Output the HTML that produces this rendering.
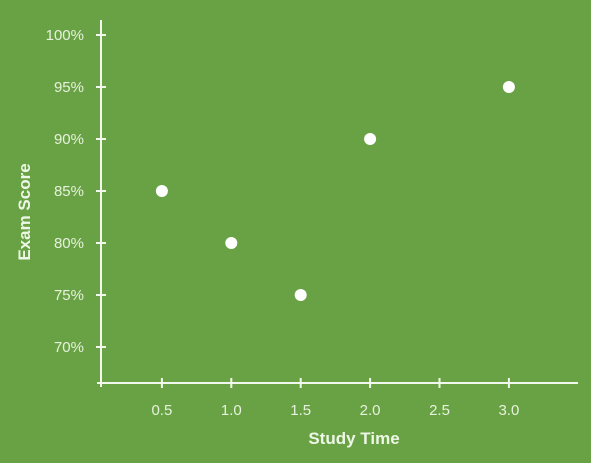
<!DOCTYPE html>
<html><head><meta charset="utf-8"><style>
html,body{margin:0;padding:0;background:#69a245;}
svg{display:block;font-family:"Liberation Sans",sans-serif;}
</style></head><body>
<svg id="chart" width="591" height="463" viewBox="0 0 591 463">
<rect x="0" y="0" width="591" height="463" fill="#69a245"/>
<g id="axes"></g><g id="points"></g>
<text x="354" y="444" text-anchor="middle" font-size="17" font-weight="bold" fill="#eef7e6">Study Time</text>
<text transform="translate(30,212) rotate(-90)" text-anchor="middle" font-size="17" font-weight="bold" fill="#eef7e6">Exam Score</text>
</svg>
<script>
const xTicks=[0.5,1.0,1.5,2.0,2.5,3.0];
const xTickLabels=["0.5","1.0","1.5","2.0","2.5","3.0"];
const yTicks=[70,75,80,85,90,95,100];
const yTickLabels=["70%","75%","80%","85%","90%","95%","100%"];
const studyTime=[0.5,1.0,1.5,2.0,3.0];
const examScore=[85,80,75,90,95];
const NS="http://www.w3.org/2000/svg";
function xs(v){return 92.5+(v/0.5)*69.4;}
function ys(v){return 35+(100-v)*10.4;}
const axes=document.getElementById('axes'),pts=document.getElementById('points');
function mk(tag,attrs,parent){const e=document.createElementNS(NS,tag);for(const k in attrs)e.setAttribute(k,attrs[k]);parent.appendChild(e);return e;}
const stroke="#f2f9ec";
let yl=mk('line',{x1:101,y1:20,x2:101,y2:387,stroke:stroke,'stroke-width':2},axes);


let xl=mk('line',{x1:97,y1:383,x2:578,y2:383,stroke:stroke,'stroke-width':2},axes);


xTicks.forEach((t,i)=>{const x=xs(t);
 let tk=mk('line',{x1:x,y1:378,x2:x,y2:388,stroke:stroke,'stroke-width':2},axes);
 
 
 let tx=mk('text',{x:x,y:415,'text-anchor':'middle','font-size':15,fill:'#e6f2dc'},axes);tx.textContent=xTickLabels[i];
 
 
});
yTicks.forEach((t,i)=>{const y=ys(t);
 let tk=mk('line',{x1:96,y1:y,x2:106,y2:y,stroke:stroke,'stroke-width':2},axes);
 
 
 let tx=mk('text',{x:84,y:y+5,'text-anchor':'end','font-size':15,fill:'#e6f2dc'},axes);tx.textContent=yTickLabels[i];
 
 
});
studyTime.forEach((s,i)=>{
 let c=mk('circle',{cx:xs(s),cy:ys(examScore[i]),r:6,fill:'#ffffff'},pts);
 
 
});
</script>
</body></html>
